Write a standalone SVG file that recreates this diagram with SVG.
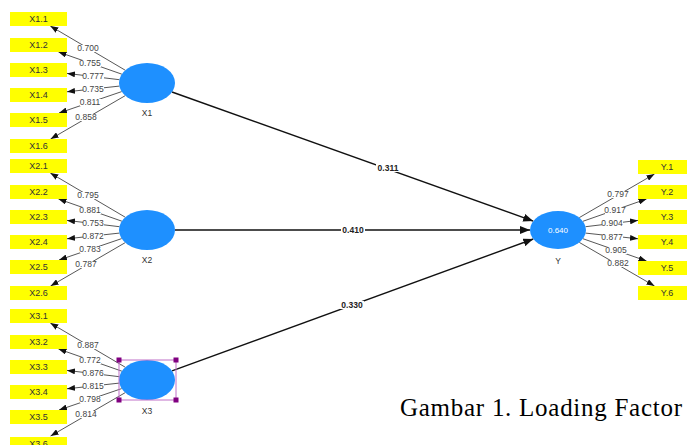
<svg xmlns="http://www.w3.org/2000/svg" width="687" height="445" viewBox="0 0 687 445">
<defs>
<style>
.box{fill:#ffff00}
.bt{font-family:"Liberation Sans",Arial,sans-serif;font-size:9px;fill:#333;text-anchor:middle}
.lv{font-family:"Liberation Sans",Arial,sans-serif;font-size:8.5px;fill:#444;text-anchor:middle}
.pc{font-family:"Liberation Sans",Arial,sans-serif;font-size:8.5px;font-weight:bold;fill:#222;text-anchor:middle}
.lb{fill:#fff}
.lv-line{stroke:#444;stroke-width:0.9;fill:none}
.st-line{stroke:#111;stroke-width:1.4;fill:none}
.lv-cir{fill:#1e90ff}
.nl{font-family:"Liberation Sans",Arial,sans-serif;font-size:8.5px;fill:#333;text-anchor:middle}
.sel{fill:none;stroke:#c070c8;stroke-width:1}
.hd{fill:#800080}
</style>
<marker id="ah" markerUnits="userSpaceOnUse" markerWidth="8" markerHeight="6" refX="8" refY="3" orient="auto"><path d="M0,0 L8,3 L0,6 z" fill="#111"/></marker>
<marker id="ahb" markerUnits="userSpaceOnUse" markerWidth="10" markerHeight="8" refX="10" refY="4" orient="auto"><path d="M0,0 L10,4 L0,8 z" fill="#111"/></marker>
</defs>
<rect width="687" height="445" fill="#fff"/>

<g id="connectors">
<!-- X1 indicators -->
<line class="lv-line" x1="125.4" y1="70.3" x2="50.3" y2="26" marker-end="url(#ah)"/>
<line class="lv-line" x1="121.9" y1="74.2" x2="58.5" y2="52" marker-end="url(#ah)"/>
<line class="lv-line" x1="119.4" y1="79.7" x2="67" y2="73.4" marker-end="url(#ah)"/>
<line class="lv-line" x1="119.3" y1="86.1" x2="67" y2="91.8" marker-end="url(#ah)"/>
<line class="lv-line" x1="121.7" y1="91.6" x2="59" y2="113" marker-end="url(#ah)"/>
<line class="lv-line" x1="125.3" y1="95.6" x2="50.6" y2="139" marker-end="url(#ah)"/>
<!-- X2 indicators -->
<line class="lv-line" x1="125.4" y1="217.3" x2="50.3" y2="173" marker-end="url(#ah)"/>
<line class="lv-line" x1="121.9" y1="221.2" x2="58.5" y2="199" marker-end="url(#ah)"/>
<line class="lv-line" x1="119.4" y1="226.7" x2="67" y2="220.4" marker-end="url(#ah)"/>
<line class="lv-line" x1="119.3" y1="233.1" x2="67" y2="238.8" marker-end="url(#ah)"/>
<line class="lv-line" x1="121.7" y1="238.6" x2="59" y2="260" marker-end="url(#ah)"/>
<line class="lv-line" x1="125.3" y1="242.6" x2="50.6" y2="286" marker-end="url(#ah)"/>
<!-- X3 indicators -->
<line class="lv-line" x1="125.4" y1="367.3" x2="50.3" y2="323" marker-end="url(#ah)"/>
<line class="lv-line" x1="121.9" y1="371.2" x2="58.5" y2="349" marker-end="url(#ah)"/>
<line class="lv-line" x1="119.4" y1="376.7" x2="67" y2="370.4" marker-end="url(#ah)"/>
<line class="lv-line" x1="119.3" y1="383.1" x2="67" y2="388.8" marker-end="url(#ah)"/>
<line class="lv-line" x1="121.7" y1="388.6" x2="59" y2="410" marker-end="url(#ah)"/>
<line class="lv-line" x1="125.3" y1="392.6" x2="50.6" y2="436" marker-end="url(#ah)"/>
<!-- Y indicators -->
<line class="lv-line" x1="579.3" y1="217.6" x2="654.5" y2="174" marker-end="url(#ah)"/>
<line class="lv-line" x1="582.9" y1="221.3" x2="646.5" y2="199" marker-end="url(#ah)"/>
<line class="lv-line" x1="585.6" y1="226.7" x2="638" y2="220.4" marker-end="url(#ah)"/>
<line class="lv-line" x1="585.6" y1="233.1" x2="638" y2="238.8" marker-end="url(#ah)"/>
<line class="lv-line" x1="582.9" y1="238.7" x2="646.5" y2="261" marker-end="url(#ah)"/>
<line class="lv-line" x1="579.3" y1="242.4" x2="654.5" y2="286" marker-end="url(#ah)"/>
<!-- structural -->
<line class="st-line" x1="172" y1="92" x2="533.2" y2="221.1" marker-end="url(#ahb)"/>
<line class="st-line" x1="175" y1="230" x2="530" y2="230" marker-end="url(#ahb)"/>
<line class="st-line" x1="172" y1="370.9" x2="533.3" y2="239" marker-end="url(#ahb)"/>

<!-- loading labels X1 -->
<rect class="lb" x="78" y="45" width="21" height="7"/><text class="lv" x="88" y="51">0.700</text>
<rect class="lb" x="80" y="60" width="21" height="7"/><text class="lv" x="90" y="66">0.755</text>
<rect class="lb" x="83" y="73" width="21" height="7"/><text class="lv" x="93" y="79">0.777</text>
<rect class="lb" x="83" y="86" width="21" height="7"/><text class="lv" x="93" y="92">0.735</text>
<rect class="lb" x="80" y="99" width="21" height="7"/><text class="lv" x="90" y="105">0.811</text>
<rect class="lb" x="76" y="114" width="21" height="7"/><text class="lv" x="86" y="120">0.858</text>
<!-- X2 -->
<rect class="lb" x="78" y="192" width="21" height="7"/><text class="lv" x="88" y="198">0.795</text>
<rect class="lb" x="80" y="207" width="21" height="7"/><text class="lv" x="90" y="213">0.881</text>
<rect class="lb" x="83" y="220" width="21" height="7"/><text class="lv" x="93" y="226">0.753</text>
<rect class="lb" x="83" y="233" width="21" height="7"/><text class="lv" x="93" y="239">0.872</text>
<rect class="lb" x="80" y="246" width="21" height="7"/><text class="lv" x="90" y="252">0.783</text>
<rect class="lb" x="76" y="261" width="21" height="7"/><text class="lv" x="86" y="267">0.787</text>
<!-- X3 -->
<rect class="lb" x="78" y="342" width="21" height="7"/><text class="lv" x="88" y="348">0.887</text>
<rect class="lb" x="80" y="357" width="21" height="7"/><text class="lv" x="90" y="363">0.772</text>
<rect class="lb" x="83" y="370" width="21" height="7"/><text class="lv" x="93" y="376">0.876</text>
<rect class="lb" x="83" y="383" width="21" height="7"/><text class="lv" x="93" y="389">0.815</text>
<rect class="lb" x="80" y="396" width="21" height="7"/><text class="lv" x="90" y="402">0.798</text>
<rect class="lb" x="76" y="411" width="21" height="7"/><text class="lv" x="86" y="417">0.814</text>
<!-- Y -->
<rect class="lb" x="608" y="191" width="21" height="7"/><text class="lv" x="618" y="197">0.797</text>
<rect class="lb" x="605" y="207" width="21" height="7"/><text class="lv" x="615" y="213">0.917</text>
<rect class="lb" x="602" y="220" width="21" height="7"/><text class="lv" x="612" y="226">0.904</text>
<rect class="lb" x="602" y="234" width="21" height="7"/><text class="lv" x="612" y="240">0.877</text>
<rect class="lb" x="606" y="247" width="21" height="7"/><text class="lv" x="616" y="253">0.905</text>
<rect class="lb" x="608" y="260" width="21" height="7"/><text class="lv" x="618" y="266">0.882</text>
<!-- path coefficients -->
<rect class="lb" x="376" y="164" width="24" height="8"/><text class="pc" x="388" y="171">0.311</text>
<rect class="lb" x="341" y="226" width="24" height="8"/><text class="pc" x="353" y="233">0.410</text>
<rect class="lb" x="340" y="301" width="24" height="8"/><text class="pc" x="352" y="308">0.330</text>
</g>

<g id="X1">
<ellipse class="lv-cir" cx="147" cy="83" rx="28" ry="20"/>
<text class="nl" x="147" y="116">X1</text>
</g>
<g id="X2">
<ellipse class="lv-cir" cx="147" cy="230" rx="28" ry="20"/>
<text class="nl" x="147" y="263">X2</text>
</g>
<g id="X3">
<ellipse class="lv-cir" cx="147" cy="380" rx="28" ry="20"/>
<text class="nl" x="147" y="414">X3</text>
<rect class="sel" x="119" y="360" width="57" height="40"/>
<rect class="hd" x="116.5" y="357.5" width="5" height="5"/>
<rect class="hd" x="173.5" y="357.5" width="5" height="5"/>
<rect class="hd" x="116.5" y="397.5" width="5" height="5"/>
<rect class="hd" x="173.5" y="397.5" width="5" height="5"/>
</g>
<g id="Y">
<ellipse class="lv-cir" cx="558" cy="230" rx="28" ry="19"/>
<text x="558" y="233" style="font-family:'Liberation Sans',Arial,sans-serif;font-size:8px;fill:#fff;text-anchor:middle">0.640</text>
<text class="nl" x="558" y="264">Y</text>
</g>

<g id="X1.1"><rect class="box" x="10" y="12" width="57" height="14"/><text class="bt" x="38.5" y="22">X1.1</text></g>
<g id="X1.2"><rect class="box" x="10" y="38" width="57" height="14"/><text class="bt" x="38.5" y="48">X1.2</text></g>
<g id="X1.3"><rect class="box" x="10" y="63" width="57" height="14"/><text class="bt" x="38.5" y="73">X1.3</text></g>
<g id="X1.4"><rect class="box" x="10" y="88" width="57" height="14"/><text class="bt" x="38.5" y="98">X1.4</text></g>
<g id="X1.5"><rect class="box" x="10" y="113" width="57" height="14"/><text class="bt" x="38.5" y="123">X1.5</text></g>
<g id="X1.6"><rect class="box" x="10" y="139" width="57" height="14"/><text class="bt" x="38.5" y="149">X1.6</text></g>

<g id="X2.1"><rect class="box" x="10" y="159" width="57" height="14"/><text class="bt" x="38.5" y="169">X2.1</text></g>
<g id="X2.2"><rect class="box" x="10" y="185" width="57" height="14"/><text class="bt" x="38.5" y="195">X2.2</text></g>
<g id="X2.3"><rect class="box" x="10" y="210" width="57" height="14"/><text class="bt" x="38.5" y="220">X2.3</text></g>
<g id="X2.4"><rect class="box" x="10" y="235" width="57" height="14"/><text class="bt" x="38.5" y="245">X2.4</text></g>
<g id="X2.5"><rect class="box" x="10" y="260" width="57" height="14"/><text class="bt" x="38.5" y="270">X2.5</text></g>
<g id="X2.6"><rect class="box" x="10" y="286" width="57" height="14"/><text class="bt" x="38.5" y="296">X2.6</text></g>

<g id="X3.1"><rect class="box" x="10" y="309" width="57" height="14"/><text class="bt" x="38.5" y="319">X3.1</text></g>
<g id="X3.2"><rect class="box" x="10" y="335" width="57" height="14"/><text class="bt" x="38.5" y="345">X3.2</text></g>
<g id="X3.3"><rect class="box" x="10" y="360" width="57" height="14"/><text class="bt" x="38.5" y="370">X3.3</text></g>
<g id="X3.4"><rect class="box" x="10" y="385" width="57" height="14"/><text class="bt" x="38.5" y="395">X3.4</text></g>
<g id="X3.5"><rect class="box" x="10" y="410" width="57" height="14"/><text class="bt" x="38.5" y="420">X3.5</text></g>
<g id="X3.6"><rect class="box" x="10" y="437" width="57" height="14"/><text class="bt" x="38.5" y="447">X3.6</text></g>

<g id="Y.1"><rect class="box" x="638" y="160" width="57" height="14"/><text class="bt" x="667" y="170">Y.1</text></g>
<g id="Y.2"><rect class="box" x="638" y="185" width="57" height="14"/><text class="bt" x="667" y="195">Y.2</text></g>
<g id="Y.3"><rect class="box" x="638" y="210" width="57" height="14"/><text class="bt" x="667" y="220">Y.3</text></g>
<g id="Y.4"><rect class="box" x="638" y="235" width="57" height="14"/><text class="bt" x="667" y="245">Y.4</text></g>
<g id="Y.5"><rect class="box" x="638" y="261" width="57" height="14"/><text class="bt" x="667" y="271">Y.5</text></g>
<g id="Y.6"><rect class="box" x="638" y="286" width="57" height="14"/><text class="bt" x="667" y="296">Y.6</text></g>

<text x="400" y="416" textLength="282" lengthAdjust="spacing" style="font-family:'Liberation Serif','Times New Roman',serif;font-size:25px;fill:#000">Gambar 1. Loading Factor</text>
</svg>
